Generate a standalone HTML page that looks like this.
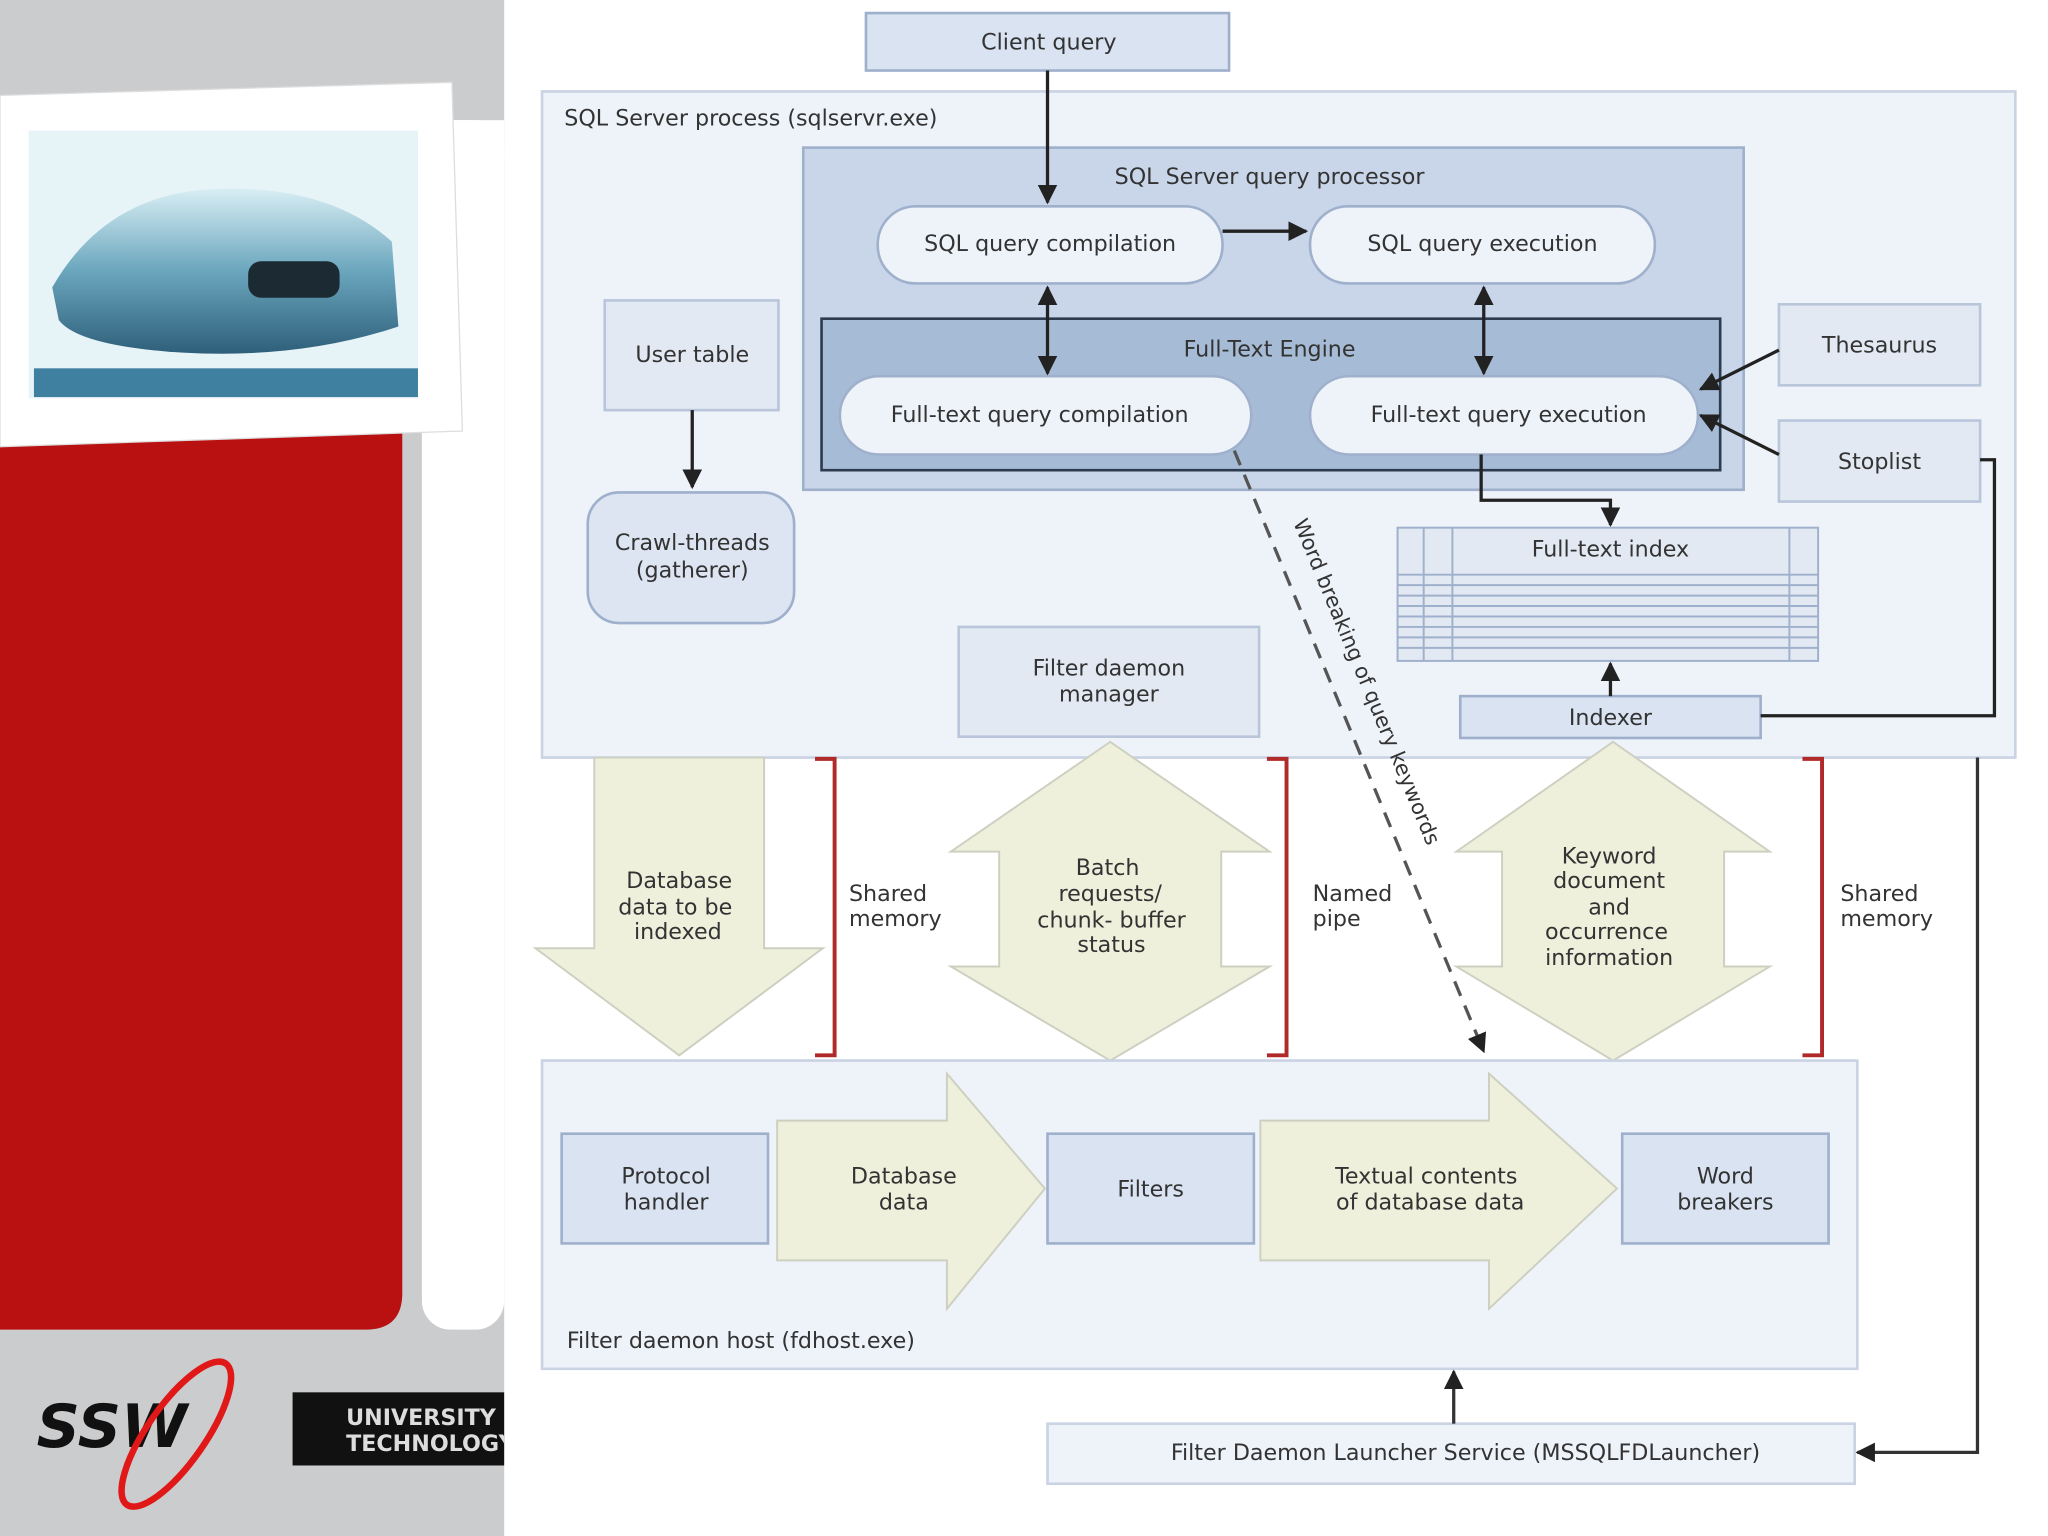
<!DOCTYPE html>
<html><head><meta charset="utf-8"><style>
html,body{margin:0;padding:0;background:#fff;width:2048px;height:1536px;overflow:hidden}
svg text{font-family:"DejaVu Sans","Liberation Sans",sans-serif;fill:#333;font-size:17px}
</style></head><body>
<svg width="2048" height="1536" viewBox="0 0 1568 1176" xmlns="http://www.w3.org/2000/svg">
<defs>
<marker id="a" viewBox="0 0 10 10" refX="9" refY="5" markerWidth="6" markerHeight="6" orient="auto-start-reverse"><path d="M0,0 L10,5 L0,10 z" fill="#222"/></marker>
<linearGradient id="car" x1="0" y1="0" x2="0" y2="1"><stop offset="0" stop-color="#d8eef4"/><stop offset="0.5" stop-color="#6aa6bd"/><stop offset="1" stop-color="#2f5f7a"/></linearGradient>
<clipPath id="uc"><rect x="224" y="1066" width="162" height="56"/></clipPath>
</defs>
<!-- left panel -->
<rect x="0" y="0" width="386" height="1176" fill="#cbccce"/>
<rect x="323" y="92" width="63" height="926" rx="22" fill="#fff"/>
<rect x="323" y="92" width="63" height="30" fill="#fff"/>
<path d="M0,330 H308 V990 Q308,1018 280,1018 H0 Z" fill="#b91112"/>
<polygon points="0,73 346,63 354,330 0,342" fill="#fff" stroke="#ddd"/>
<rect x="22" y="100" width="298" height="205" fill="#e6f3f7"/>
<path d="M40,220 Q80,150 160,145 Q250,140 300,185 L305,250 Q230,275 140,270 Q60,265 45,245 Z" fill="url(#car)"/>
<rect x="190" y="200" width="70" height="28" rx="10" fill="#1c2a33"/>
<rect x="26" y="282" width="294" height="22" fill="#3f7fa0"/>
<text x="28" y="1108" style="font-size:46px;font-weight:bold;font-style:italic;fill:#111">SSW</text>
<ellipse cx="135" cy="1098" rx="22" ry="66" transform="rotate(35 135 1098)" fill="none" stroke="#e01818" stroke-width="5"/>
<rect x="224" y="1066" width="162" height="56" fill="#111"/>
<g clip-path="url(#uc)">
<text x="265" y="1091" style="font-size:17px;font-weight:bold;fill:#ddd">UNIVERSITY OF</text>
<text x="265" y="1111" style="font-size:17px;font-weight:bold;fill:#ddd">TECHNOLOGY S</text>
</g>

<!-- main process -->
<rect x="415" y="70" width="1128" height="510" fill="#eef2f9" stroke="#c9d3e4" stroke-width="2"/>
<text x="432" y="96">SQL Server process (sqlservr.exe)</text>
<rect x="663" y="10" width="278" height="44" fill="#d9e3f2" stroke="#9fb0cc" stroke-width="2"/>
<text x="803" y="38" text-anchor="middle">Client query</text>
<rect x="615" y="113" width="720" height="262" fill="#c9d6e9" stroke="#9fb0cc" stroke-width="2"/>
<text x="972" y="141" text-anchor="middle">SQL Server query processor</text>
<rect x="672" y="158" width="264" height="59" rx="29" fill="#eef3fa" stroke="#9fb0cc" stroke-width="2"/>
<text x="804" y="192" text-anchor="middle">SQL query compilation</text>
<rect x="1003" y="158" width="264" height="59" rx="29" fill="#eef3fa" stroke="#9fb0cc" stroke-width="2"/>
<text x="1135" y="192" text-anchor="middle">SQL query execution</text>
<rect x="629" y="244" width="688" height="116" fill="#a6bcd6" stroke="#2d3b4f" stroke-width="2"/>
<text x="972" y="273" text-anchor="middle">Full-Text Engine</text>
<rect x="643" y="288" width="315" height="60" rx="30" fill="#eef3fa" stroke="#9fb0cc" stroke-width="2"/>
<text x="796" y="323" text-anchor="middle">Full-text query compilation</text>
<rect x="1003" y="288" width="297" height="60" rx="30" fill="#eef3fa" stroke="#9fb0cc" stroke-width="2"/>
<text x="1155" y="323" text-anchor="middle">Full-text query execution</text>
<line x1="802" y1="54" x2="802" y2="155" stroke="#222" stroke-width="2.5" marker-end="url(#a)"/>
<line x1="936" y1="177" x2="1000" y2="177" stroke="#222" stroke-width="2.5" marker-end="url(#a)"/>
<line x1="802" y1="220" x2="802" y2="286" stroke="#222" stroke-width="2.5" marker-start="url(#a)" marker-end="url(#a)"/>
<line x1="1136" y1="220" x2="1136" y2="286" stroke="#222" stroke-width="2.5" marker-start="url(#a)" marker-end="url(#a)"/>
<rect x="1362" y="233" width="154" height="62" fill="#e3e9f3" stroke="#b9c5da" stroke-width="2"/>
<text x="1439" y="270" text-anchor="middle">Thesaurus</text>
<rect x="1362" y="322" width="154" height="62" fill="#e3e9f3" stroke="#b9c5da" stroke-width="2"/>
<text x="1439" y="359" text-anchor="middle">Stoplist</text>
<line x1="1362" y1="268" x2="1302" y2="298" stroke="#222" stroke-width="2.5" marker-end="url(#a)"/>
<line x1="1362" y1="348" x2="1302" y2="318" stroke="#222" stroke-width="2.5" marker-end="url(#a)"/>
<polyline points="1134,348 1134,383 1233,383 1233,402" fill="none" stroke="#222" stroke-width="2.5" marker-end="url(#a)"/>
<rect x="1070" y="404" width="322" height="102" fill="#e3e9f3" stroke="#9fb0cc" stroke-width="1.5"/>
<g stroke="#9fb0cc" stroke-width="1.5">
<line x1="1090" y1="404" x2="1090" y2="506"/><line x1="1112" y1="404" x2="1112" y2="506"/><line x1="1370" y1="404" x2="1370" y2="506"/>
<line x1="1070" y1="440" x2="1392" y2="440"/><line x1="1070" y1="448" x2="1392" y2="448"/><line x1="1070" y1="456" x2="1392" y2="456"/><line x1="1070" y1="464" x2="1392" y2="464"/><line x1="1070" y1="472" x2="1392" y2="472"/><line x1="1070" y1="480" x2="1392" y2="480"/><line x1="1070" y1="488" x2="1392" y2="488"/><line x1="1070" y1="496" x2="1392" y2="496"/></g>
<text x="1233" y="426" text-anchor="middle">Full-text index</text>
<rect x="1118" y="533" width="230" height="32" fill="#d9e3f2" stroke="#9fb0cc" stroke-width="2"/>
<text x="1233" y="555" text-anchor="middle">Indexer</text>
<line x1="1233" y1="533" x2="1233" y2="508" stroke="#222" stroke-width="2.5" marker-end="url(#a)"/>
<polyline points="1348,548 1527,548 1527,352 1516,352" fill="none" stroke="#222" stroke-width="2.5"/>
<polyline points="1514,580 1514,1112 1422,1112" fill="none" stroke="#333" stroke-width="2.5" marker-end="url(#a)"/>
<rect x="463" y="230" width="133" height="84" fill="#e3e9f3" stroke="#b9c5da" stroke-width="2"/>
<text x="530" y="277" text-anchor="middle">User table</text>
<line x1="530" y1="314" x2="530" y2="373" stroke="#222" stroke-width="2.5" marker-end="url(#a)"/>
<rect x="450" y="377" width="158" height="100" rx="24" fill="#dce5f1" stroke="#9fb0cc" stroke-width="2"/>
<text x="530" y="421" text-anchor="middle">Crawl-threads</text>
<text x="530" y="442" text-anchor="middle">(gatherer)</text>
<rect x="734" y="480" width="230" height="84" fill="#e3e9f3" stroke="#b9c5da" stroke-width="2"/>
<text x="849" y="517" text-anchor="middle">Filter daemon</text>
<text x="849" y="537" text-anchor="middle">manager</text>

<!-- block arrows -->
<g fill="#eef0dc" stroke="#cdd0c0" stroke-width="1.5">
<polygon points="455,580 585,580 585,726 630,726 520,808 410,726 455,726"/>
<polygon points="850,568 972,652 935,652 935,740 972,740 850,812 728,740 765,740 765,652 728,652"/>
<polygon points="1235,568 1355,652 1320,652 1320,740 1355,740 1235,812 1115,740 1150,740 1150,652 1115,652"/>
</g>
<g text-anchor="middle">
<text x="520" y="680">Database</text><text x="517" y="700">data to be</text><text x="519" y="719">indexed</text>
<text x="848" y="670">Batch</text><text x="850" y="690">requests/</text><text x="851" y="710">chunk- buffer</text><text x="851" y="729">status</text>
<text x="1232" y="661">Keyword</text><text x="1232" y="680">document</text><text x="1232" y="700">and</text><text x="1230" y="719">occurrence</text><text x="1232" y="739">information</text>
</g>
<text x="650" y="690">Shared</text><text x="650" y="709">memory</text>
<text x="1005" y="690">Named</text><text x="1005" y="709">pipe</text>
<text x="1409" y="690">Shared</text><text x="1409" y="709">memory</text>
<g fill="none" stroke="#b02a2a" stroke-width="3">
<polyline points="624,581 639,581 639,808 624,808"/>
<polyline points="970,581 985,581 985,808 970,808"/>
<polyline points="1380,581 1395,581 1395,808 1380,808"/>
</g>

<!-- fdhost -->
<rect x="415" y="812" width="1007" height="236" fill="#eef2f9" stroke="#c9d3e4" stroke-width="2"/>
<g fill="#eef0dc" stroke="#cdd0c0" stroke-width="1.5">
<polygon points="595,858 725,858 725,822 800,910 725,1002 725,965 595,965"/>
<polygon points="965,858 1140,858 1140,822 1238,910 1140,1002 1140,965 965,965"/>
</g>
<rect x="430" y="868" width="158" height="84" fill="#d9e3f2" stroke="#9fb0cc" stroke-width="2"/>
<text x="510" y="906" text-anchor="middle">Protocol</text><text x="510" y="926" text-anchor="middle">handler</text>
<text x="692" y="906" text-anchor="middle">Database</text><text x="692" y="926" text-anchor="middle">data</text>
<rect x="802" y="868" width="158" height="84" fill="#d9e3f2" stroke="#9fb0cc" stroke-width="2"/>
<text x="881" y="916" text-anchor="middle">Filters</text>
<text x="1092" y="906" text-anchor="middle">Textual contents</text><text x="1095" y="926" text-anchor="middle">of database data</text>
<rect x="1242" y="868" width="158" height="84" fill="#d9e3f2" stroke="#9fb0cc" stroke-width="2"/>
<text x="1321" y="906" text-anchor="middle">Word</text><text x="1321" y="926" text-anchor="middle">breakers</text>
<text x="434" y="1032">Filter daemon host (fdhost.exe)</text>
<rect x="802" y="1090" width="618" height="46" fill="#eef2f9" stroke="#c9d3e4" stroke-width="2"/>
<text x="1122" y="1118" text-anchor="middle">Filter Daemon Launcher Service (MSSQLFDLauncher)</text>
<line x1="1113" y1="1090" x2="1113" y2="1050" stroke="#333" stroke-width="2.5" marker-end="url(#a)"/>

<!-- dashed -->
<line x1="945" y1="345" x2="1136" y2="805" stroke="#555" stroke-width="2.5" stroke-dasharray="12,8" marker-end="url(#a)"/>
<text transform="translate(990,400) rotate(67.5)" style="font-size:16px">Word breaking of query keywords</text>
</svg>
</body></html>
